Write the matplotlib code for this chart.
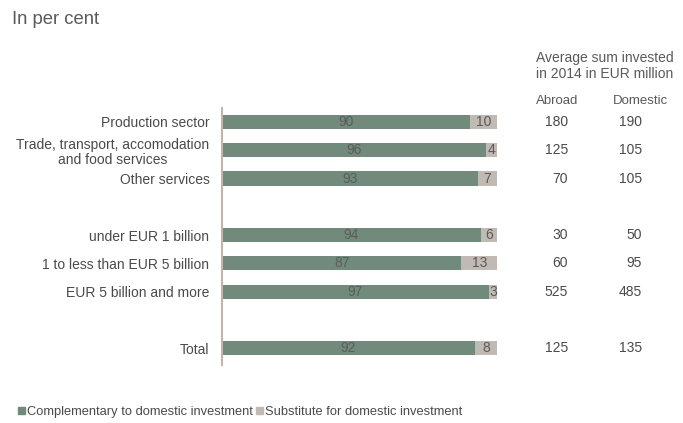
import numpy as np
import matplotlib.pyplot as plt
from matplotlib.patches import Patch
from matplotlib.transforms import blended_transform_factory

plt.rcParams['font.family'] = ['Liberation Sans', 'DejaVu Sans']

# Data, three groups separated by an empty row
groups = [
    ["Production sector", "Trade, transport, accomodation\nand food services", "Other services"],
    ["under EUR 1 billion", "1 to less than EUR 5 billion", "EUR 5 billion and more"],
    ["Total"],
]
complementary = [90, 96, 93, 94, 87, 97, 92]
substitute = [10, 4, 7, 6, 13, 3, 8]
abroad = ["180", "125", "70", "30", "60", "525", "125"]
domestic = ["190", "105", "105", "50", "95", "485", "135"]

green = "#718a7c"
grey = "#c0b9b4"
text_col = "#4a4a4a"

# row positions with a blank slot between groups
labels, ypos = [], []
slot = 0
for g in groups:
    for name in g:
        labels.append(name)
        ypos.append(slot)
        slot += 1
    slot += 1
ypos = np.array(ypos)

fig = plt.figure(figsize=(6.83, 4.23), dpi=100)
ax = fig.add_axes([0.325, 0.137, 0.403, 0.608])

ax.barh(ypos, complementary, height=0.5, color=green)
ax.barh(ypos, substitute, left=complementary, height=0.5, color=grey)

for y, c, s in zip(ypos, complementary, substitute):
    ax.text(c / 2, y, str(c), ha="center", va="center", fontsize=10, color="#5a5e5c")
    ax.text(c + s / 2, y, str(s), ha="center", va="center", fontsize=10, color="#5a5a5a")

ax.set_xlim(0, 100)
ax.set_ylim(ypos[-1] + 0.6, -0.5)
ax.set_yticks(ypos)
ax.set_yticklabels(labels, fontsize=10, color=text_col, linespacing=1.1)
for lab in ax.get_yticklabels():
    lab.set_multialignment("center")
ax.tick_params(axis="y", length=0, pad=9)
ax.set_xticks([])
for side in ["top", "right", "bottom"]:
    ax.spines[side].set_visible(False)
ax.spines["left"].set_color("#bcb5b0")
ax.spines["left"].set_linewidth(1.5)

# right-hand table
tr = blended_transform_factory(fig.transFigure, ax.transData)
for y, a, d in zip(ypos, abroad, domestic):
    ax.text(568 / 683, y, a, transform=tr, ha="right", va="center", fontsize=10, color=text_col)
    ax.text(642 / 683, y, d, transform=tr, ha="right", va="center", fontsize=10, color=text_col)

fig.text(536 / 683, 1 - 66 / 423, "Average sum invested\nin 2014 in EUR million",
         ha="left", va="center", fontsize=10, color="#595959", linespacing=1.1)
fig.text(557 / 683, 1 - 101 / 423, "Abroad", ha="center", va="center", fontsize=9.5, color="#595959")
fig.text(641 / 683, 1 - 101 / 423, "Domestic", ha="center", va="center", fontsize=9.5, color="#595959")

fig.text(12 / 683, 1 - 19 / 423, "In per cent", ha="left", va="center", fontsize=13.3, color="#595959")

handles = [Patch(color=green, label="Complementary to domestic investment"),
           Patch(color=grey, label="Substitute for domestic investment")]
fig.legend(handles=handles, loc="center left", bbox_to_anchor=(0.026, 1 - 412 / 423), ncol=2,
           frameon=False, fontsize=9.3, handlelength=0.55, handleheight=0.55,
           handletextpad=0.15, columnspacing=0.25, labelcolor=text_col, borderaxespad=0,
           borderpad=0)

fig.savefig("out.png", dpi=100)
